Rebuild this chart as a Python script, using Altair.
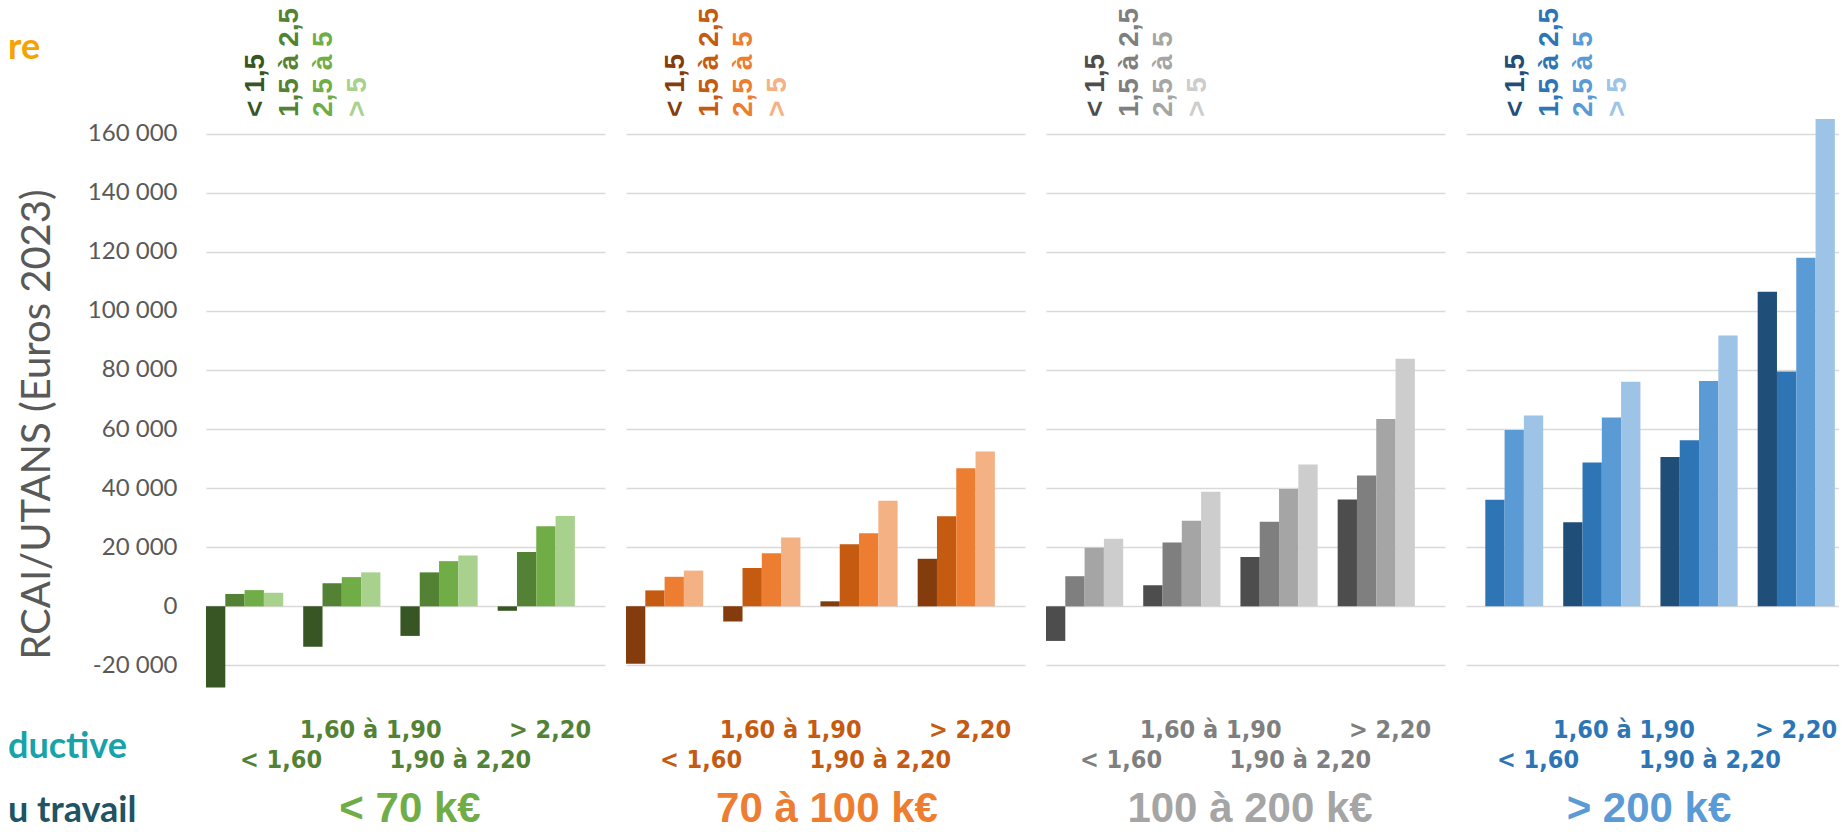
import altair as alt
import pandas as pd

# ---- data -------------------------------------------------------------
groups = ["< 1,60", "1,60 à 1,90", "1,90 à 2,20", "> 2,20"]
series = ["< 1,5", "1,5 à 2,5", "2,5 à 5", "> 5"]
panels = ["< 70 k€", "70 à 100 k€", "100 à 200 k€", "> 200 k€"]

# values per panel, group by group, in series order
green_vals = [
    [-27500, 4200, 5500, 4600],
    [-13700, 7800, 9900, 11500],
    [-10000, 11500, 15300, 17200],
    [-1500, 18400, 27100, 30600],
]
orange_vals = [
    [-19400, 5400, 10000, 12100],
    [-5100, 13000, 18000, 23300],
    [1700, 21000, 24700, 35700],
    [16100, 30500, 46700, 52400],
]
gray_vals = [
    [-11700, 10200, 19800, 22900],
    [7100, 21600, 29000, 38800],
    [16700, 28600, 39700, 48000],
    [36200, 44300, 63400, 83800],
]
blue_vals = [
    [None, 36100, 59700, 64600],
    [28500, 48700, 63900, 76000],
    [50500, 56200, 76300, 91700],
    [106500, 79500, 118000, 164900],
]
all_vals = [green_vals, orange_vals, gray_vals, blue_vals]

series_colors = [
    ["#375623", "#548235", "#70AD47", "#A9D18E"],
    ["#843C0C", "#C55A11", "#ED7D31", "#F4B183"],
    ["#4D4D4D", "#7F7F7F", "#A5A5A5", "#CDCDCD"],
    ["#1F4E79", "#2E75B6", "#5B9BD5", "#9DC3E6"],
]
label_colors = ["#548235", "#C55A11", "#7F7F7F", "#2E75B6"]
title_colors = ["#70AD47", "#ED7D31", "#A5A5A5", "#5B9BD5"]
title_offsets = [204, 201, 204, 183]
label_ranges = [[75, 344], [75, 344], [75, 344], [72, 330]]

y_ticks = list(range(-20000, 160001, 20000))

# ---- layout constants ----------------------------------------------------
W = 399          # full panel step width
W_LAST = 373     # last panel is cut at the right edge, like the reference
H = 591
Y_DOMAIN = [-30000, 170000]
BOLD = "Liberation Sans"
NARROW = "DejaVu Sans Condensed, sans-serif"
GRID = "#D9D9D9"


def make_panel(i):
    rows = []
    for g, vals in zip(groups, all_vals[i]):
        for s, v in zip(series, vals):
            rows.append({"group": g, "series": s, "value": v})
    df = pd.DataFrame(rows)

    color_scale = alt.Scale(domain=series, range=series_colors[i])

    if i == 0:
        yaxis = alt.Axis(
            values=y_ticks, grid=True, gridColor=GRID, gridWidth=1.5,
            domain=False, ticks=False, labelPadding=29,
            labelFont="Lato", labelFontSize=24, labelColor="#595959",
            labelExpr="replace(replace(format(datum.value, ','), ',', ' '), '\u2212', '-')",
            title="RCAI/UTANS (Euros 2023)", titleFont="Lato",
            titleFontSize=40, titleFontWeight="normal", titleColor="#595959",
            titlePadding=30, titleY=320,
        )
    else:
        yaxis = alt.Axis(
            values=y_ticks, grid=True, gridColor=GRID, gridWidth=1.5,
            domain=False, ticks=False, labels=False, title=None,
        )

    bars = alt.Chart(df).mark_bar().encode(
        x=alt.X("group:N", sort=groups, axis=None,
                scale=alt.Scale(paddingInner=0.206, paddingOuter=0.155, align=0,
                                range=[0, W])),
        xOffset=alt.XOffset("series:N", sort=series),
        y=alt.Y("value:Q", scale=alt.Scale(domain=Y_DOMAIN, nice=False), axis=yaxis),
        color=alt.Color("series:N", scale=color_scale, legend=None),
    )

    legend_df = pd.DataFrame({"series": series})
    legend = alt.Chart(legend_df).mark_text(
        angle=270, align="left", baseline="middle",
        font=BOLD, fontSize=28, fontWeight="bold",
    ).encode(
        x=alt.X("series:N", sort=series, axis=None,
                scale=alt.Scale(type="point", domain=series, range=[50, 152], padding=0)),
        y=alt.value(13),
        color=alt.Color("series:N", scale=color_scale, legend=None),
        text="series:N",
    )

    lab_scale = alt.Scale(type="point", domain=groups, range=label_ranges[i], padding=0)
    upper = alt.Chart(pd.DataFrame({"group": groups[1::2]})).mark_text(
        font=NARROW, fontSize=25, fontWeight="bold", color=label_colors[i],
        baseline="middle",
    ).encode(
        x=alt.X("group:N", scale=lab_scale, axis=None),
        y=alt.value(626),
        text="group:N",
    )
    lower = alt.Chart(pd.DataFrame({"group": groups[0::2]})).mark_text(
        font=NARROW, fontSize=25, fontWeight="bold", color=label_colors[i],
        baseline="middle",
    ).encode(
        x=alt.X("group:N", scale=lab_scale, axis=None),
        y=alt.value(656),
        text="group:N",
    )

    title = alt.Chart(pd.DataFrame({"t": [panels[i]]})).mark_text(
        font=BOLD, fontSize=42, fontWeight="bold", color=title_colors[i],
        baseline="middle",
    ).encode(
        x=alt.value(title_offsets[i]),
        y=alt.value(705),
        text="t:N",
    )

    layers = [bars, legend, upper, lower, title]

    if i == 0:
        side = [
            ("re", "#F5A300", -45),
            ("ductive", "#17A3AA", 654),
            ("u travail", "#1F5463", 718),
        ]
        for txt, col, yy in side:
            layers.append(
                alt.Chart(pd.DataFrame({"t": [txt]})).mark_text(
                    font="Lato", fontSize=36, fontWeight="bold", color=col,
                    align="left", baseline="alphabetic",
                ).encode(x=alt.value(-198), y=alt.value(yy), text="t:N")
            )

    width = W if i < 3 else W_LAST
    return alt.layer(*layers).resolve_scale(x="independent").properties(
        width=width, height=H
    )


chart = alt.hconcat(*[make_panel(i) for i in range(4)], spacing=21).resolve_scale(
    color="independent", y="shared"
).properties(
    padding=0
).configure_view(stroke=None)

chart.save("out.html", embed_options={"renderer": "svg", "actions": False})
